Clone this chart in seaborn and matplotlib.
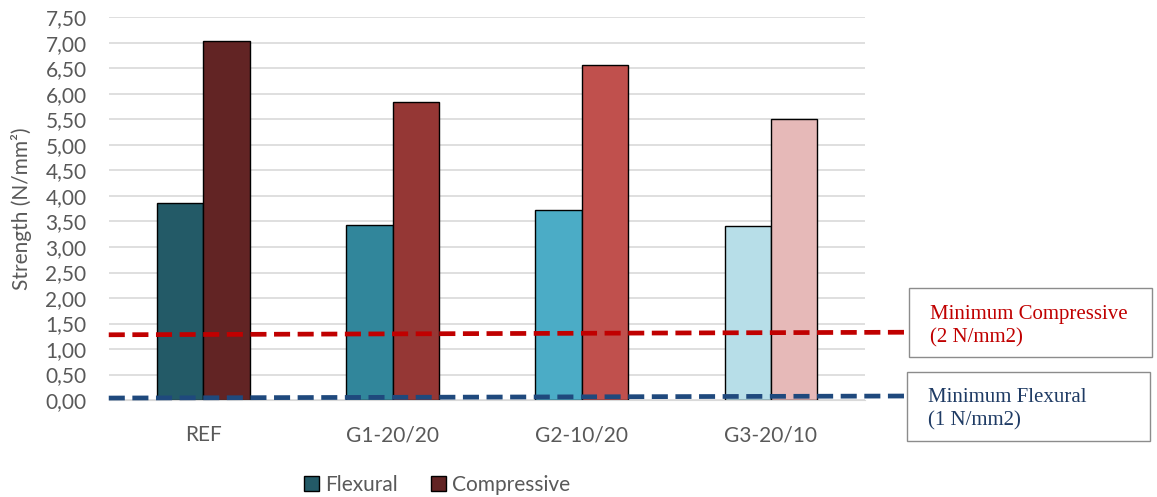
import pandas as pd
import matplotlib.pyplot as plt
import seaborn as sns
from matplotlib.patches import Patch

groups = ["REF", "G1-20/20", "G2-10/20", "G3-20/10"]
flexural = [3.86, 3.44, 3.73, 3.41]
compressive = [7.04, 5.85, 6.57, 5.51]

flex_colors = ["#235a67", "#31869b", "#4bacc6", "#b7dee8"]
comp_colors = ["#622424", "#953735", "#c0504d", "#e6b9b8"]

# limit lines (drawn slightly sloped as in the original)
comp_limit = [1.28, 1.33]
flex_limit = [0.04, 0.08]

df = pd.DataFrame({
    "group": groups * 2,
    "type": ["Flexural"] * 4 + ["Compressive"] * 4,
    "value": flexural + compressive,
})

sns.set_style("white")
plt.rcParams["font.family"] = ["Lato", "DejaVu Sans"]

fig = plt.figure(figsize=(11.57, 4.97), dpi=100)
ax = fig.add_axes([0.094, 0.195, 0.654, 0.77])

sns.barplot(data=df, x="group", y="value", hue="type", width=0.49,
            edgecolor="black", linewidth=1, ax=ax, legend=False, errorbar=None)

for bar, c in zip(ax.containers[0], flex_colors):
    bar.set_facecolor(c)
for bar, c in zip(ax.containers[1], comp_colors):
    bar.set_facecolor(c)

ax.set_xlim(-0.5, 3.5)
ax.set_ylim(0, 7.5)
ax.set_yticks([i * 0.5 for i in range(16)])
ax.set_yticklabels([f"{i * 0.5:.2f}".replace(".", ",") for i in range(16)])
ax.yaxis.grid(True, color="#d9d9d9", linewidth=1.2)
ax.set_axisbelow(True)
for s in ["top", "right", "left"]:
    ax.spines[s].set_visible(False)
ax.spines["bottom"].set_color("#d9d9d9")
ax.tick_params(axis="both", length=0, labelsize=15, labelcolor="#595959")
ax.tick_params(axis="y", pad=16)
ax.tick_params(axis="x", pad=18)
ax.set_xlabel("")
ax.set_ylabel("Strength (N/mm²)", fontsize=15, color="#595959")
ax.yaxis.set_label_coords(-0.102, 0.5)

# dashed limit lines extending into the annotation boxes
x_end = 3.74
ax.plot([-0.5, x_end], comp_limit, ls=(0, (3.4, 1.6)), color="#c00000", lw=3.4, clip_on=False, zorder=5)
ax.plot([-0.5, x_end], flex_limit, ls=(0, (3.4, 1.6)), color="#1f497d", lw=3.4, clip_on=False, zorder=5)

fig.patches.append(plt.Rectangle((909 / 1157, 1 - 357 / 497), 243 / 1157, 69 / 497,
                                 transform=fig.transFigure, fc="white", ec="#8c8c8c", lw=1))
fig.patches.append(plt.Rectangle((907 / 1157, 1 - 441 / 497), 243 / 1157, 69 / 497,
                                 transform=fig.transFigure, fc="white", ec="#8c8c8c", lw=1))
fig.text(930 / 1157, 1 - 326 / 497, "Minimum Compressive\n(2 N/mm2)", color="#c00000",
         family="Liberation Serif", fontsize=15, va="center", ha="left", linespacing=1.3)
fig.text(928 / 1157, 1 - 409 / 497, "Minimum Flexural\n(1 N/mm2)", color="#1f3b64",
         family="Liberation Serif", fontsize=15, va="center", ha="left", linespacing=1.3)

handles = [Patch(facecolor=flex_colors[0], edgecolor="black", label="Flexural"),
           Patch(facecolor=comp_colors[0], edgecolor="black", label="Compressive")]
leg = fig.legend(handles=handles, loc="center", bbox_to_anchor=(437 / 1157, 1 - 485 / 497),
                 ncol=2, frameon=False, fontsize=15, handlelength=0.7, handleheight=0.7,
                 handletextpad=0.3, columnspacing=1.6, borderpad=0)
for t in leg.get_texts():
    t.set_color("#595959")

fig.savefig("out.png", dpi=100)
